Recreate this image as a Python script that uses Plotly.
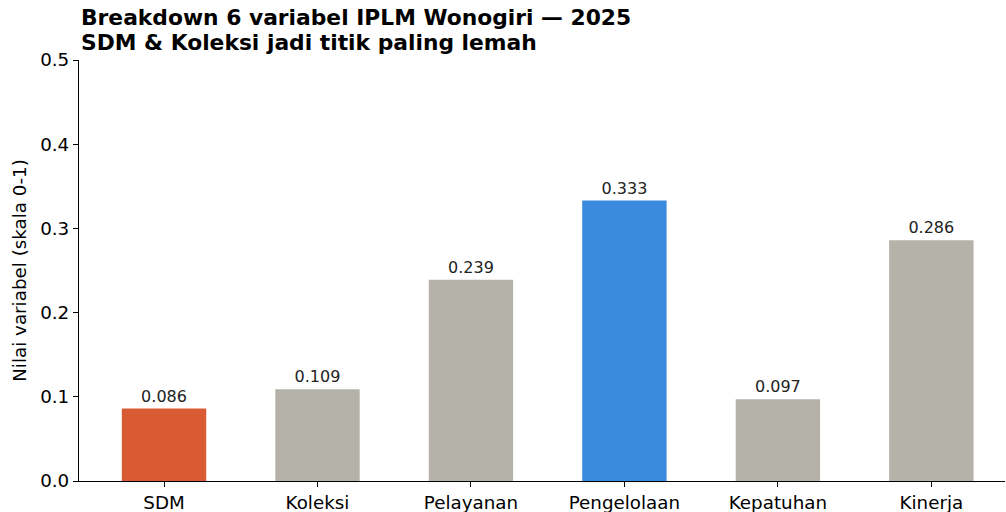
import plotly.graph_objects as go

categories = ["SDM", "Koleksi", "Pelayanan", "Pengelolaan", "Kepatuhan", "Kinerja"]
values = [0.086, 0.109, 0.239, 0.333, 0.097, 0.286]
colors = ["#D95B33", "#B5B3A9", "#B5B3A9", "#3A8BDF", "#B5B3A9", "#B5B3A9"]
y_ticks = [0.0, 0.1, 0.2, 0.3, 0.4, 0.5]
title_lines = ["Breakdown 6 variabel IPLM Wonogiri — 2025", "SDM & Koleksi jadi titik paling lemah"]

font = "DejaVu Sans"

fig = go.Figure(go.Bar(
    x=list(range(len(categories))),
    y=values,
    width=0.55,
    marker=dict(color=colors, line=dict(width=0)),
    text=[f"{v:.3f}" for v in values],
    textposition="outside",
    textfont=dict(family=font, size=16, color="#222222"),
    cliponaxis=False,
))

for line, ypos in zip(title_lines, [1.101, 1.0416]):
    fig.add_annotation(
        text=f"<b>{line}</b>", xref="paper", yref="paper", x=0, y=ypos,
        xanchor="left", yanchor="middle", align="left", showarrow=False,
        font=dict(family=font, size=21.8, color="black"),
    )

fig.update_layout(
    width=1006, height=512,
    margin=dict(l=79, r=1, t=60, b=31, autoexpand=False),
    paper_bgcolor="white", plot_bgcolor="white",
    showlegend=False,
    font=dict(family=font, color="black"),
    xaxis=dict(
        range=[-0.554, 5.48], tickmode="array",
        tickvals=list(range(len(categories))), ticktext=categories,
        ticks="outside", ticklen=5, tickwidth=1, tickcolor="black",
        showline=True, linecolor="black", linewidth=1.2,
        showgrid=False, zeroline=False, automargin=False,
        tickfont=dict(family=font, size=18.3, color="black"),
    ),
    yaxis=dict(
        range=[0, 0.5], tickmode="array", tickvals=y_ticks,
        ticktext=[f"{t:.1f}" for t in y_ticks],
        ticks="outside", ticklen=5, tickwidth=1, tickcolor="black",
        showline=True, linecolor="black", linewidth=1.2,
        showgrid=False, zeroline=False, automargin=False,
        tickfont=dict(family=font, size=18.3, color="black"),
        title=dict(text="Nilai variabel (skala 0-1)", font=dict(family=font, size=18.3, color="black"), standoff=8),
    ),
)

fig.write_html("out.html", config={"displayModeBar": False},
               post_script="document.body.style.margin='0';")
